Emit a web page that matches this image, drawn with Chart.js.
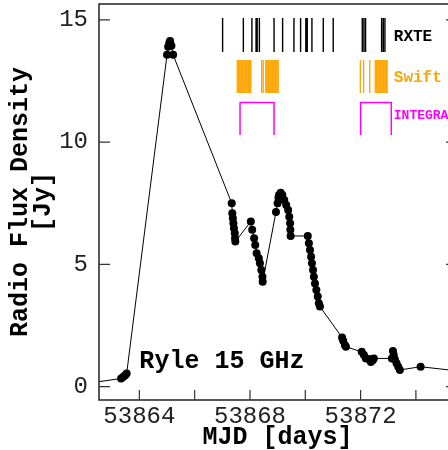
<!DOCTYPE html>
<html><head><meta charset="utf-8">
<script src="https://cdn.jsdelivr.net/npm/chart.js@4"></script>
<style>html,body{margin:0;padding:0;overflow:hidden;background:#fff}</style>
</head><body>
<canvas id="c" width="460" height="450"></canvas>
<script>
// Ryle 15 GHz light curve (MJD, Jy)
const mjd=[53861.86,
  53863.34,53863.41,53863.48,53863.54,
  53865.00,53865.04,53865.08,53865.11,53865.16,53865.22,
  53867.34,53867.36,53867.38,53867.40,53867.42,53867.45,53867.46,53867.47,
  53868.03,53868.08,53868.15,53868.19,53868.24,53868.32,53868.36,53868.41,53868.45,53868.46,
  53868.94,53869.00,53869.03,53869.05,53869.11,53869.17,53869.24,53869.31,53869.38,53869.42,53869.45,53869.46,53869.47,
  53870.09,53870.13,53870.17,53870.21,53870.24,53870.28,53870.31,53870.35,53870.40,53870.45,53870.49,53870.53,
  53871.33,53871.37,53871.43,53871.47,
  53872.04,53872.12,53872.19,53872.30,53872.37,53872.44,53872.48,
  53873.13,53873.17,53873.20,53873.24,53873.30,53873.36,53873.42,
  53874.17,53875.60];
const flux=[0.09,
  0.33,0.39,0.45,0.53,
  13.57,13.90,14.05,14.14,13.94,13.57,
  7.50,7.09,6.89,6.68,6.48,6.27,6.07,5.93,
  6.75,6.41,6.07,5.79,5.45,5.25,5.04,4.77,4.49,4.29,
  7.14,7.50,7.72,7.84,7.93,7.84,7.63,7.43,7.22,6.95,6.68,6.41,6.16,
  6.16,5.86,5.59,5.31,5.04,4.77,4.49,4.22,3.95,3.68,3.41,3.27,
  2.01,1.87,1.70,1.63,
  1.42,1.29,1.15,1.13,1.00,1.08,1.15,
  1.15,1.45,1.29,1.11,0.95,0.81,0.68,
  0.81,0.63];

// X-ray / gamma coverage
const rxte=[53867.01,53867.76,53868.07,53868.22,53868.26,53868.34,53868.87,53869.18,53869.59,53869.83,
  53870.02,53870.07,53870.24,53870.65,53871.01,53872.06,53872.12,53872.18,53872.76,53872.82,53872.88];
const swift=[53867.54,53867.59,53867.64,53867.69,53867.74,53867.79,53867.84,53867.89,53867.94,53867.99,53868.03,
  53868.42,53868.48,53868.57,53868.62,53868.67,53868.72,53868.77,53868.82,53868.87,53868.92,53868.97,53869.02,
  53871.99,53872.11,53872.33,53872.53,53872.58,53872.63,53872.68,53872.73,53872.78,53872.83,53872.88,53872.93,53872.96];
const integral=[[53867.64,53868.87],[53872.00,53873.11]];

const xTicks=[53864,53866,53868,53870,53872,53874];
const xLabels=[53864,53868,53872];
const yTicks=[0,5,10,15];

const vlines=(arr,lo,hi)=>arr.flatMap(t=>[{x:t,y:lo},{x:t,y:hi},{x:t,y:null}]);
const brackets=(arr,lo,hi)=>arr.flatMap(([a,b])=>[{x:a,y:lo},{x:a,y:hi},{x:b,y:hi},{x:b,y:lo},{x:b,y:null}]);

const frame={
  id:'frame',
  afterDraw(chart){
    const {ctx,chartArea:a,scales:{x,y}}=chart;
    ctx.save();
    ctx.strokeStyle='#222';ctx.lineWidth=1.5;
    ctx.strokeRect(a.left,a.top,a.right-a.left,a.bottom-a.top);
    ctx.lineWidth=1.2;ctx.strokeStyle='#333';
    ctx.beginPath();
    xTicks.forEach(v=>{const p=x.getPixelForValue(v);ctx.moveTo(p,a.bottom);ctx.lineTo(p,a.bottom-10);});
    yTicks.forEach(v=>{const p=y.getPixelForValue(v);
      ctx.moveTo(a.left,p);ctx.lineTo(a.left+11,p);
      ctx.moveTo(a.right,p);ctx.lineTo(a.right-10,p);});
    ctx.stroke();
    ctx.textBaseline='alphabetic';ctx.textAlign='left';
    ctx.fillStyle='#000';ctx.font='bold 25px "Liberation Mono"';
    ctx.fillText('Ryle 15 GHz',x.getPixelForValue(53864.0),y.getPixelForValue(0.76));
    const tx=x.getPixelForValue(53873.2);
    ctx.font='bold 16px "Liberation Mono"';
    ctx.fillStyle='#000';ctx.fillText('RXTE',tx,y.getPixelForValue(14.15));
    ctx.fillStyle='#FFA500';ctx.fillText('Swift',tx,y.getPixelForValue(12.44));
    ctx.font='bold 13px "Liberation Mono"';
    ctx.fillStyle='#FF00FF';ctx.fillText('INTEGRAL',tx,y.getPixelForValue(10.95));
    ctx.restore();
  }
};

new Chart(document.getElementById('c'),{
  type:'line',
  data:{datasets:[
    {data:mjd.map((v,i)=>({x:v,y:flux[i]})),borderColor:'#000',borderWidth:1,pointRadius:4,
     pointBackgroundColor:'#000',pointBorderWidth:0,tension:0},
    {data:vlines(rxte,13.69,15.08),borderColor:'#000',borderWidth:1.4,pointRadius:0,spanGaps:false},
    {data:vlines(swift,12.01,13.36),borderColor:'#FFA500',borderWidth:1.3,pointRadius:0,spanGaps:false},
    {data:brackets(integral,10.29,11.62),borderColor:'#FF00FF',borderWidth:1.5,pointRadius:0,spanGaps:false}
  ]},
  options:{
    responsive:false,animation:false,
    layout:{padding:{top:4,right:4,left:0,bottom:0}},
    plugins:{legend:{display:false},tooltip:{enabled:false}},
    scales:{
      x:{type:'linear',min:53862.54,max:53875.45,
        afterBuildTicks:s=>{s.ticks=xTicks.map(v=>({value:v}));},
        afterFit:s=>{s.height=50;s.paddingLeft=0;s.paddingRight=0;},
        grid:{display:false,drawTicks:false},border:{display:false},
        ticks:{autoSkip:false,maxRotation:0,padding:2,color:'#222',
          font:{family:'Liberation Mono',size:24},
          callback:v=>xLabels.includes(v)?String(v):''},
        title:{display:true,text:'MJD [days]',color:'#000',padding:{top:0,bottom:0},
          font:{family:'Liberation Mono',size:25,weight:'bold',lineHeight:1}}},
      y:{min:-0.55,max:15.65,
        afterBuildTicks:s=>{s.ticks=yTicks.map(v=>({value:v}));},
        afterFit:s=>{s.width=99;s.paddingTop=0;s.paddingBottom=0;},
        grid:{display:false,drawTicks:false},border:{display:false},
        ticks:{padding:11,color:'#222',font:{family:'Liberation Mono',size:24}},
        title:{display:true,text:['Radio Flux Density','[Jy]'],color:'#000',padding:{top:9,bottom:0},
          font:{family:'Liberation Mono',size:25,weight:'bold',lineHeight:0.92}}}
    }
  },
  plugins:[frame]
});
</script>
</body></html>
